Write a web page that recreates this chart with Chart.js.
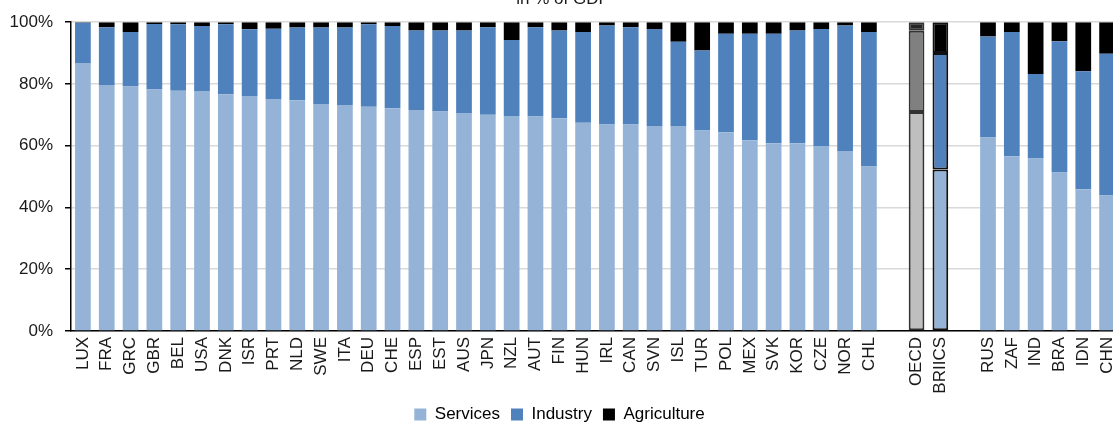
<!DOCTYPE html>
<html>
<head>
<meta charset="utf-8">
<script src="https://cdn.jsdelivr.net/npm/chart.js@4.4.1/dist/chart.umd.min.js"></script>
<style>
  html, body { margin: 0; padding: 0; background: #fff; overflow: hidden; }
  #wrap { position: absolute; left: 0; top: 0; width: 1119px; height: 433px; }
</style>
</head>
<body>
<div id="wrap"><canvas id="chart"></canvas></div>
<script>
const categories = ["LUX", "FRA", "GRC", "GBR", "BEL", "USA", "DNK", "ISR", "PRT", "NLD", "SWE", "ITA", "DEU", "CHE",
  "ESP", "EST", "AUS", "JPN", "NZL", "AUT", "FIN", "HUN", "IRL", "CAN", "SVN", "ISL", "TUR", "POL", "MEX", "SVK",
  "KOR", "CZE", "NOR", "CHL", "", "OECD", "BRIICS", "", "RUS", "ZAF", "IND", "BRA", "IDN", "CHN"];

const services = [86.8, 79.7, 79.2, 78.2, 77.8, 77.7, 76.7, 76.1, 75.1, 74.7, 73.5, 73.2, 72.6, 72.1,
  71.6, 71.1, 70.6, 70.0, 69.6, 69.5, 68.9, 67.4, 66.9, 66.9, 66.4, 66.4, 64.9, 64.4, 61.8, 60.8,
  60.8, 59.9, 58.3, 53.3, null, 70.9, 52.3, null, 62.7, 56.6, 55.9, 51.3, 45.9, 43.9];

const industry = [13.0, 18.7, 17.6, 21.2, 21.5, 21.1, 22.6, 21.6, 22.8, 23.6, 24.8, 25.1, 26.7, 26.7,
  25.7, 26.2, 26.7, 28.4, 24.6, 28.9, 28.4, 29.4, 32.0, 31.5, 31.4, 27.3, 25.9, 31.9, 34.5, 35.5,
  36.5, 37.9, 40.6, 43.5, null, 26.3, 37.7, null, 32.7, 40.2, 27.3, 42.5, 38.2, 45.9];

const agriculture = [0.2, 1.6, 3.2, 0.6, 0.7, 1.2, 0.7, 2.3, 2.1, 1.7, 1.7, 1.7, 0.7, 1.2,
  2.7, 2.7, 2.7, 1.6, 5.8, 1.6, 2.7, 3.2, 1.1, 1.6, 2.2, 6.3, 9.2, 3.7, 3.7, 3.7,
  2.7, 2.2, 1.1, 3.2, null, 2.8, 10.0, null, 4.6, 3.2, 16.8, 6.2, 15.9, 10.2];

const yTicks = [0, 20, 40, 60, 80, 100];

const FONT = "'Liberation Sans Narrow', 'Arial Narrow', 'Liberation Sans', sans-serif";
const TEXT = "#1a1a1a";

// OECD en BRIICS krijgen een eigen opmaak
function kleur(basis, oecd) {
  return categories.map(c => c === "OECD" ? oecd : basis);
}
const randKleur = categories.map(c => c === "OECD" ? "#333333" : (c === "BRIICS" ? "#111111" : "rgba(0,0,0,0)"));
const randDikte = categories.map(c => (c === "OECD" || c === "BRIICS") ? 2 : 0);

function reeks(label, data, basis, oecd) {
  return {
    label: label,
    data: data,
    backgroundColor: kleur(basis, oecd),
    borderColor: randKleur,
    borderWidth: randDikte,
    borderSkipped: false,
    barPercentage: 0.66,
    categoryPercentage: 1.0
  };
}

const titelPlugin = {
  id: "titel",
  afterDraw(chart) {
    const ctx = chart.ctx;
    ctx.save();
    ctx.font = "17px " + FONT;
    ctx.fillStyle = TEXT;
    ctx.textAlign = "center";
    ctx.textBaseline = "alphabetic";
    ctx.fillText("in % of GDP", 563, 4);
    ctx.restore();
  }
};

new Chart(document.getElementById("chart").getContext("2d"), {
  type: "bar",
  data: {
    labels: categories,
    datasets: [
      reeks("Services", services, "#95b3d7", "#bfbfbf"),
      reeks("Industry", industry, "#4f81bd", "#808080"),
      reeks("Agriculture", agriculture, "#000000", "#262626")
    ]
  },
  options: {
    responsive: true,
    maintainAspectRatio: false,
    animation: false,
    layout: { padding: { top: 18, left: 0, right: 0, bottom: 0 } },
    plugins: {
      tooltip: { enabled: false },
      legend: {
        position: "bottom",
        labels: {
          font: { family: FONT, size: 17 },
          color: TEXT,
          boxWidth: 12,
          boxHeight: 12,
          padding: 11,
          generateLabels(chart) {
            return chart.data.datasets.map((ds, i) => ({
              text: ds.label,
              fillStyle: ["#95b3d7", "#4f81bd", "#000000"][i],
              strokeStyle: "rgba(0,0,0,0)",
              lineWidth: 0,
              datasetIndex: i
            }));
          }
        }
      }
    },
    scales: {
      x: {
        stacked: true,
        afterFit(scale) {
          scale.height = 64;
          scale.paddingLeft = 0;
          scale.paddingRight = 0;
        },
        grid: { display: true, drawOnChartArea: false, drawTicks: false },
        border: { display: true, color: "#000", width: 1.5 },
        ticks: {
          autoSkip: false,
          minRotation: 90,
          maxRotation: 90,
          padding: 6,
          color: TEXT,
          font: { family: FONT, size: 17 }
        }
      },
      y: {
        stacked: true,
        min: 0,
        max: 100,
        afterFit(scale) { scale.width = 71; },
        afterBuildTicks(scale) { scale.ticks = yTicks.map(v => ({ value: v })); },
        grid: { color: "#d9d9d9", lineWidth: 1.5, tickLength: 6, tickColor: "#000" },
        border: { display: true, color: "#000", width: 1.5 },
        ticks: {
          padding: 12,
          color: TEXT,
          font: { family: FONT, size: 17 },
          callback: v => v + "%"
        }
      }
    }
  },
  plugins: [titelPlugin]
});
</script>
</body>
</html>
